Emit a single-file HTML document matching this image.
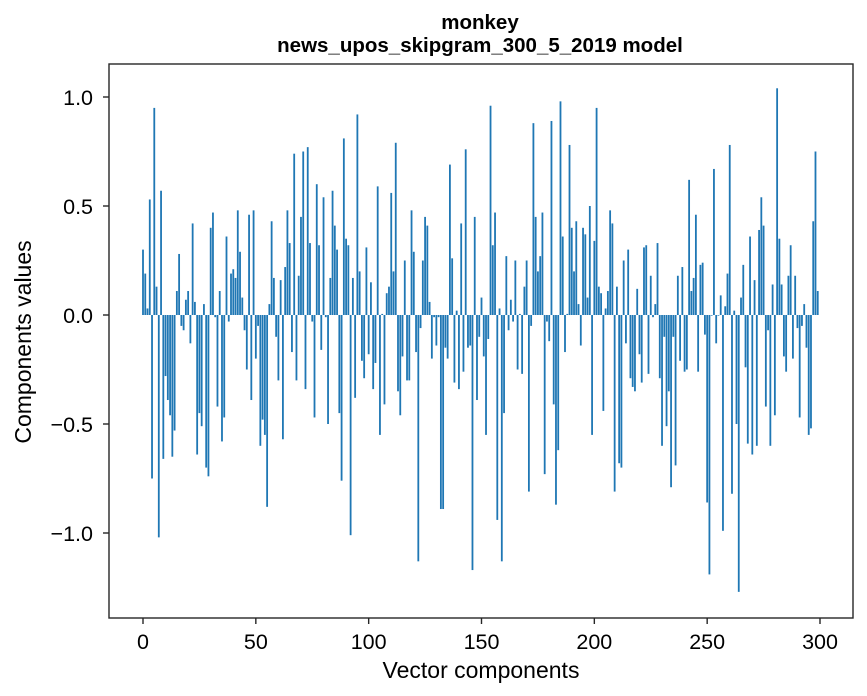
<!DOCTYPE html>
<html><head><meta charset="utf-8"><style>
html,body{margin:0;padding:0;background:#fff;}
svg{display:block;font-family:"Liberation Sans","DejaVu Sans",sans-serif;}
</style></head><body>
<svg id="chart" width="867" height="696" xmlns="http://www.w3.org/2000/svg">
<text x="480" y="29" text-anchor="middle" font-size="20.5" font-weight="bold">monkey</text>
<text x="480" y="52" text-anchor="middle" font-size="20.5" font-weight="bold">news_upos_skipgram_300_5_2019 model</text>
<g id="bars"></g>
<rect x="109" y="64" width="744" height="554" fill="none" stroke="#262626" stroke-width="1.4"/>
<g id="xticks"></g>
<g id="yticks"></g>
<text x="481" y="678" text-anchor="middle" font-size="23">Vector components</text>
<text transform="translate(31,342) rotate(-90)" text-anchor="middle" font-size="23">Components values</text>
</svg>
<script>
const values = [0.30,0.19,0.03,0.53,-0.75,0.95,0.13,-1.02,0.57,-0.66,
-0.28,-0.39,-0.46,-0.65,-0.53,0.11,0.28,-0.05,-0.07,0.07,
0.11,-0.13,0.42,0.06,-0.64,-0.45,-0.51,0.05,-0.70,-0.74,
0.40,0.47,-0.01,-0.42,0.11,-0.58,-0.47,0.36,-0.03,0.19,
0.21,0.17,0.48,0.29,0.08,-0.07,-0.25,0.46,-0.39,0.48,
-0.20,-0.05,-0.60,-0.48,-0.55,-0.88,0.05,0.43,0.17,-0.10,
-0.30,0.16,-0.57,0.22,0.48,0.33,-0.17,0.74,-0.30,0.18,
0.45,0.75,-0.34,0.77,0.33,-0.03,-0.47,0.60,0.32,-0.16,
0.54,-0.01,-0.50,0.17,0.57,0.41,0.30,-0.45,-0.76,0.81,
0.35,0.32,-1.01,0.17,-0.38,0.92,0.20,-0.21,-0.29,0.31,
-0.18,0.15,-0.34,-0.22,0.59,-0.55,0.005,-0.41,0.10,0.13,
0.56,0.20,0.79,-0.35,-0.46,-0.19,0.25,-0.30,-0.30,0.48,
0.29,-0.17,-1.13,-0.06,0.25,0.45,0.41,0.06,-0.20,-0.01,
-0.14,-0.01,-0.89,-0.89,-0.15,-0.20,0.69,0.26,-0.31,0.02,
-0.34,0.42,-0.26,0.76,-0.15,-0.14,-1.17,0.45,-0.39,-0.10,
0.08,-0.19,-0.55,-0.11,0.96,0.32,0.47,-0.94,0.03,-1.13,
-0.45,0.27,-0.07,0.07,-0.03,0.25,-0.25,0.005,-0.27,0.13,
0.25,-0.81,-0.05,0.88,0.45,0.20,0.27,0.47,-0.73,-0.03,
-0.12,0.89,-0.41,-0.87,-0.62,0.98,0.36,-0.17,0.005,0.78,
0.40,0.20,0.43,0.05,-0.14,0.40,0.37,0.08,0.50,-0.55,
0.34,0.95,0.13,0.10,-0.44,0.03,0.11,0.48,0.42,-0.81,
0.13,-0.68,-0.70,0.25,-0.13,0.30,-0.29,-0.33,-0.35,0.12,
-0.18,-0.31,0.31,0.32,-0.27,0.18,-0.01,0.05,0.33,-0.29,
-0.60,-0.10,-0.51,-0.35,-0.79,-0.10,-0.69,0.18,-0.21,0.22,
-0.26,-0.25,0.62,0.11,0.17,0.46,-0.26,0.23,0.24,-0.09,
-0.86,-1.19,-0.003,0.67,-0.13,-0.003,0.09,-0.99,0.04,0.19,
0.78,-0.82,0.02,-0.50,-1.27,0.08,0.23,-0.24,-0.59,0.36,
-0.64,0.16,-0.60,0.39,0.54,0.41,-0.42,-0.07,-0.60,0.14,
-0.46,1.04,0.35,0.14,-0.19,-0.26,0.18,0.32,-0.20,0.18,
-0.06,-0.47,-0.05,0.05,-0.15,-0.55,-0.52,0.43,0.75,0.11];
const xTicks = [0,50,100,150,200,250,300];
const yTicks = [-1.0,-0.5,0.0,0.5,1.0];
const yTickLabels = ["\u22121.0","\u22120.5","0.0","0.5","1.0"];

const NS = "http://www.w3.org/2000/svg";
function xs(i){ return 143 + i*(820-143)/300; }
function ys(v){ return 315 - v*218; }
const barW = 0.8*(820-143)/300;
const gb = document.getElementById('bars');
values.forEach((v,i)=>{
  const r = document.createElementNS(NS,'rect');
  const y0 = ys(0), y1 = ys(v);
  r.setAttribute('x', xs(i)-barW/2);
  r.setAttribute('y', Math.min(y0,y1));
  r.setAttribute('width', barW);
  r.setAttribute('height', Math.max(Math.abs(y1-y0),0.3));
  r.setAttribute('fill', '#1f77b4');
  
  
  gb.appendChild(r);
});
const gx = document.getElementById('xticks');
xTicks.forEach(t=>{
  const l = document.createElementNS(NS,'line');
  l.setAttribute('x1', xs(t)); l.setAttribute('x2', xs(t));
  l.setAttribute('y1', 618); l.setAttribute('y2', 624);
  l.setAttribute('stroke', '#262626'); l.setAttribute('stroke-width', '1.4');
  
  
  gx.appendChild(l);
  const tx = document.createElementNS(NS,'text');
  tx.setAttribute('x', xs(t)); tx.setAttribute('y', 649);
  tx.setAttribute('text-anchor', 'middle'); tx.setAttribute('font-size', '21.5');
  tx.textContent = String(t);
  
  
  gx.appendChild(tx);
});
const gy = document.getElementById('yticks');
yTicks.forEach((t,k)=>{
  const l = document.createElementNS(NS,'line');
  l.setAttribute('x1', 103); l.setAttribute('x2', 109);
  l.setAttribute('y1', ys(t)); l.setAttribute('y2', ys(t));
  l.setAttribute('stroke', '#262626'); l.setAttribute('stroke-width', '1.4');
  
  
  gy.appendChild(l);
  const tx = document.createElementNS(NS,'text');
  tx.setAttribute('x', 93); tx.setAttribute('y', ys(t)+8);
  tx.setAttribute('text-anchor', 'end'); tx.setAttribute('font-size', '21.5');
  tx.textContent = yTickLabels[k];
  
  
  gy.appendChild(tx);
});
</script>
</body></html>
